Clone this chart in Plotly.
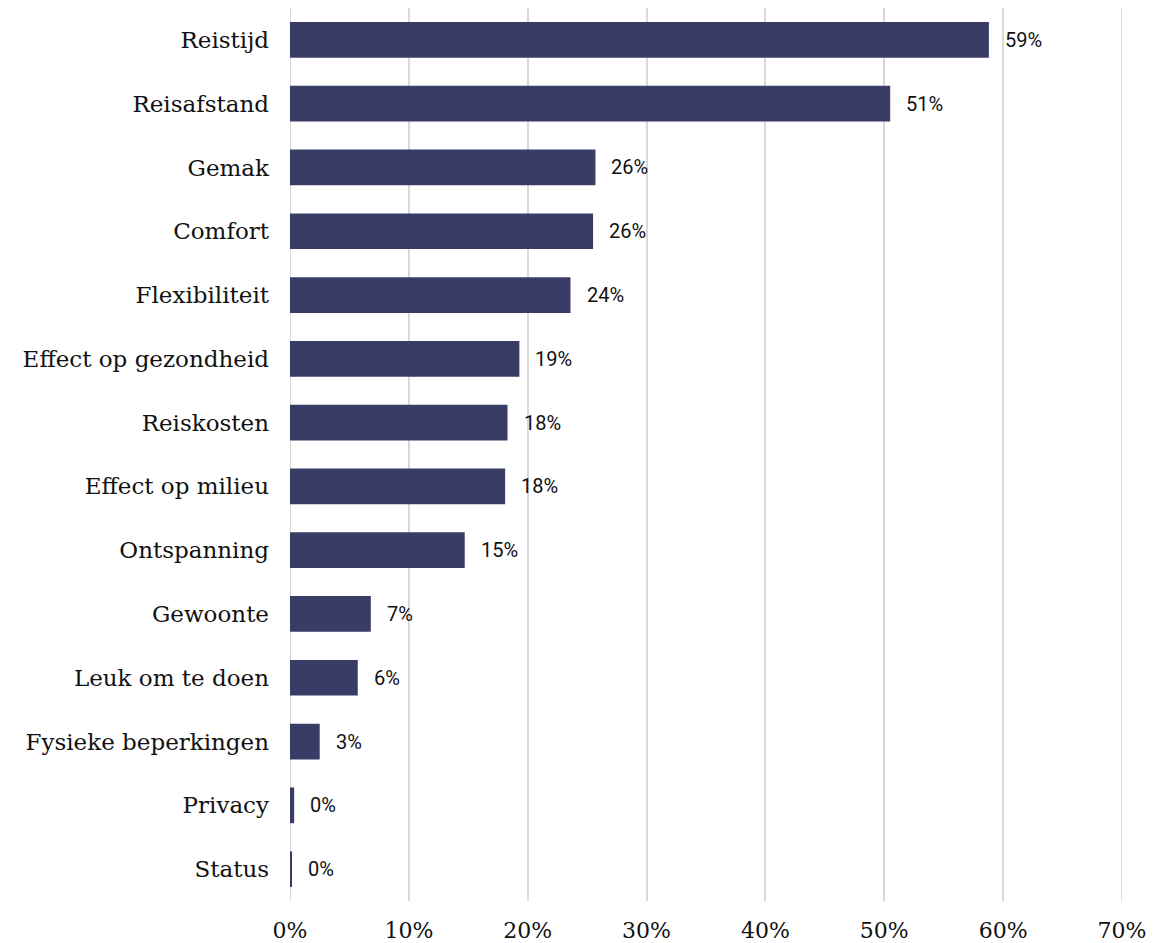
import plotly.graph_objects as go

categories = ["Reistijd", "Reisafstand", "Gemak", "Comfort", "Flexibiliteit",
              "Effect op gezondheid", "Reiskosten", "Effect op milieu", "Ontspanning",
              "Gewoonte", "Leuk om te doen", "Fysieke beperkingen", "Privacy", "Status"]
values = [58.8, 50.5, 25.7, 25.5, 23.6, 19.3, 18.3, 18.1, 14.7, 6.8, 5.7, 2.5, 0.35, 0.15]
labels = ["59%", "51%", "26%", "26%", "24%", "19%", "18%", "18%", "15%", "7%", "6%", "3%", "0%", "0%"]
tick_vals = [0, 10, 20, 30, 40, 50, 60, 70]
tick_text = ["0%", "10%", "20%", "30%", "40%", "50%", "60%", "70%"]

fig = go.Figure(go.Bar(
    x=values, y=categories, orientation="h",
    marker=dict(color="#393c67", line=dict(width=0)),
    width=0.56,
))

for c, v, t in zip(categories, values, labels):
    fig.add_annotation(x=v, y=c, text=t, showarrow=False, xanchor="left",
                       xshift=14, font=dict(family="Roboto", size=20, color="#111111"))

# gridlines at the range edges (plotly omits them there)
for tv in (tick_vals[0], tick_vals[-1]):
    fig.add_shape(type="line", xref="x", yref="paper", x0=tv, x1=tv,
                  y0=0, y1=1, line=dict(color="#d9d9d9", width=2), layer="below")

fig.update_layout(
    width=1167, height=935,
    margin=dict(l=282, r=53, t=0, b=42),
    plot_bgcolor="white", paper_bgcolor="white",
    showlegend=False,
    xaxis=dict(range=[0, 70], tickvals=tick_vals, ticktext=tick_text,
               showgrid=True, gridcolor="#d9d9d9", gridwidth=2,
               zeroline=False, showline=False, automargin=False,
               tickfont=dict(family="DejaVu Serif", size=22, color="#111111"),
               ticklabelstandoff=14),
    yaxis=dict(categoryorder="array", categoryarray=categories, autorange=False,
               range=[13.5, -0.5], showgrid=False, zeroline=False, showline=False,
               automargin=False,
               tickfont=dict(family="DejaVu Serif", size=23, color="#111111"),
               ticklabelstandoff=20),
)

fig.write_html("out.html")
